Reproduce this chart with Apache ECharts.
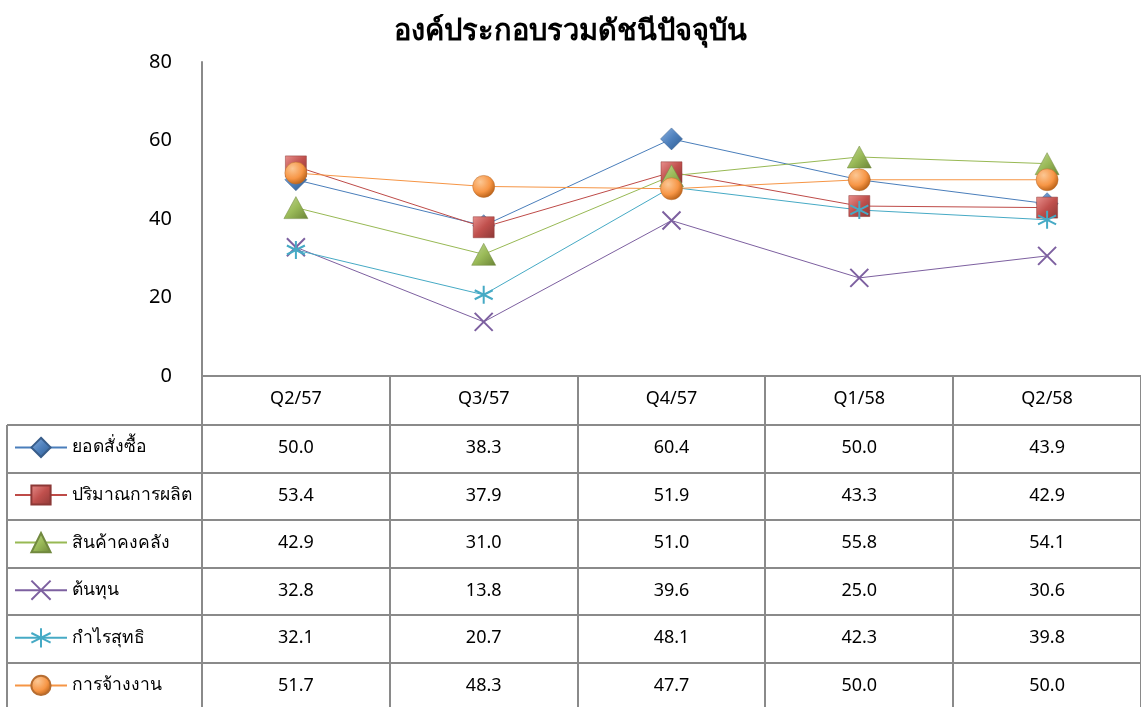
<!DOCTYPE html>
<html>
<head>
<meta charset="utf-8">
<script src="https://cdn.jsdelivr.net/npm/echarts@6/dist/echarts.min.js"></script>
<style>
  html, body { margin: 0; padding: 0; background: #fff; }
  #chart { width: 1141px; height: 707px; }
</style>
</head>
<body>
<div id="chart"></div>
<script>
// data
var quarters = ['Q2/57', 'Q3/57', 'Q4/57', 'Q1/58', 'Q2/58'];
var seriesNames = ['ยอดสั่งซื้อ', 'ปริมาณการผลิต', 'สินค้าคงคลัง', 'ต้นทุน', 'กำไรสุทธิ', 'การจ้างงาน'];
var orders = [50.0, 38.3, 60.4, 50.0, 43.9];
var production = [53.4, 37.9, 51.9, 43.3, 42.9];
var inventory = [42.9, 31.0, 51.0, 55.8, 54.1];
var cost = [32.8, 13.8, 39.6, 25.0, 30.6];
var profit = [32.1, 20.7, 48.1, 42.3, 39.8];
var employment = [51.7, 48.3, 47.7, 50.0, 50.0];
var yTicks = [0, 20, 40, 60, 80];

var allValues = [orders, production, inventory, cost, profit, employment];

var FONT = 'Tahoma, "Noto Sans", "DejaVu Sans", sans-serif';
var GRID_COLOR = '#8a8a8a';

function grad(light, base, dark) {
  return new echarts.graphic.LinearGradient(0, 0, 1, 1, [
    { offset: 0, color: light },
    { offset: 0.5, color: base },
    { offset: 1, color: dark }
  ]);
}
function radial(light, base, dark) {
  return new echarts.graphic.RadialGradient(0.35, 0.3, 0.75, [
    { offset: 0, color: light },
    { offset: 0.6, color: base },
    { offset: 1, color: dark }
  ]);
}

var styles = [
  { line: '#4A7EBB', symbol: 'diamond', size: 22, item: { color: grad('#8DB3E2', '#4F81BD', '#2C5A8F'), borderColor: '#385D8A', borderWidth: 0.5 } },
  { line: '#BE4B48', symbol: 'rect', size: 21, item: { color: grad('#E8908D', '#C0504D', '#8C3836'), borderColor: '#8C3836', borderWidth: 0.5 } },
  { line: '#98B954', symbol: 'triangle', size: [24, 22], item: { color: grad('#C3D69B', '#9BBB59', '#6A8436'), borderColor: '#71893F', borderWidth: 0.5 } },
  { line: '#7D60A0', symbol: 'path://M0,0L10,10M10,0L0,10', size: 18, item: { color: 'rgba(0,0,0,0)', borderColor: '#7D60A0', borderWidth: 2 } },
  { line: '#46AAC5', symbol: 'path://M5,0L5,10M0.7,2.5L9.3,7.5M0.7,7.5L9.3,2.5', size: 18, item: { color: 'rgba(0,0,0,0)', borderColor: '#46AAC5', borderWidth: 2 } },
  { line: '#F69545', symbol: 'circle', size: 22, item: { color: radial('#FBC794', '#F79646', '#B65E14'), borderColor: '#B66D31', borderWidth: 0.5 } }
];

var series = seriesNames.map(function (name, i) {
  return {
    name: name,
    type: 'line',
    data: allValues[i],
    symbol: styles[i].symbol,
    symbolSize: styles[i].size,
    showAllSymbol: true,
    lineStyle: { color: styles[i].line, width: 1 },
    itemStyle: styles[i].item,
    emphasis: { disabled: true }
  };
});

var rowTop = 425;
var rowH = 47.6;

// one legend per table row, acting as the row header
var legends = seriesNames.map(function (name, i) {
  return {
    orient: 'vertical',
    left: 14,
    top: rowTop + i * rowH + rowH / 2 - 12,
    padding: 0,
    itemWidth: 52,
    itemHeight: 24,
    textStyle: { fontFamily: FONT, fontSize: 17.5, color: '#000' },
    selectedMode: false,
    data: [name]
  };
});

var chart = echarts.init(document.getElementById('chart'));

chart.setOption({
  animation: false,
  backgroundColor: '#fff',
  title: {
    text: 'องค์ประกอบรวมดัชนีปัจจุบัน',
    left: 'center',
    top: 12,
    textStyle: { fontFamily: FONT, fontSize: 29, fontWeight: 'bold', color: '#000' }
  },
  legend: legends,
  grid: { left: 202, top: 62, width: 945, height: 314 },
  xAxis: {
    type: 'category',
    data: quarters,
    boundaryGap: true,
    axisLine: { lineStyle: { color: GRID_COLOR, width: 2 } },
    axisTick: { show: false },
    axisLabel: { margin: 14, fontFamily: FONT, fontSize: 18, color: '#000' }
  },
  yAxis: {
    type: 'value',
    min: yTicks[0],
    max: yTicks[yTicks.length - 1],
    interval: 20,
    axisLine: { show: true, lineStyle: { color: GRID_COLOR, width: 2 } },
    axisTick: { show: false },
    splitLine: { show: false },
    axisLabel: { margin: 30, fontFamily: FONT, fontSize: 20, color: '#000' }
  },
  series: series
});

// data table under the plot, columns taken from the category axis
var graphics = [];
var bandLeft = chart.convertToPixel({ xAxisIndex: 0 }, 0);
var bandRight = chart.convertToPixel({ xAxisIndex: 0 }, 1);
var band = bandRight - bandLeft;
var axisY = chart.convertToPixel({ yAxisIndex: 0 }, 0);
var tableBottom = rowTop + rowH * seriesNames.length;
var lineStyle = { stroke: GRID_COLOR, lineWidth: 2 };

for (var c = 0; c <= quarters.length; c++) {
  var x = Math.round(bandLeft - band / 2 + c * band);
  graphics.push({ type: 'line', shape: { x1: x, y1: axisY, x2: x, y2: tableBottom }, style: lineStyle, silent: true });
}
graphics.push({ type: 'line', shape: { x1: 7, y1: rowTop, x2: 7, y2: tableBottom }, style: lineStyle, silent: true });
for (var r = 0; r <= seriesNames.length; r++) {
  var y = Math.round(rowTop + r * rowH);
  graphics.push({ type: 'line', shape: { x1: 7, y1: y, x2: 1141, y2: y }, style: lineStyle, silent: true });
}
allValues.forEach(function (vals, r) {
  vals.forEach(function (v, c) {
    graphics.push({
      type: 'text',
      x: chart.convertToPixel({ xAxisIndex: 0 }, c),
      y: rowTop + r * rowH + rowH / 2 - 1,
      silent: true,
      style: {
        text: v.toFixed(1),
        fontFamily: FONT,
        fontSize: 18,
        fill: '#000',
        align: 'center',
        verticalAlign: 'middle'
      }
    });
  });
});

chart.setOption({ graphic: graphics });
</script>
</body>
</html>
